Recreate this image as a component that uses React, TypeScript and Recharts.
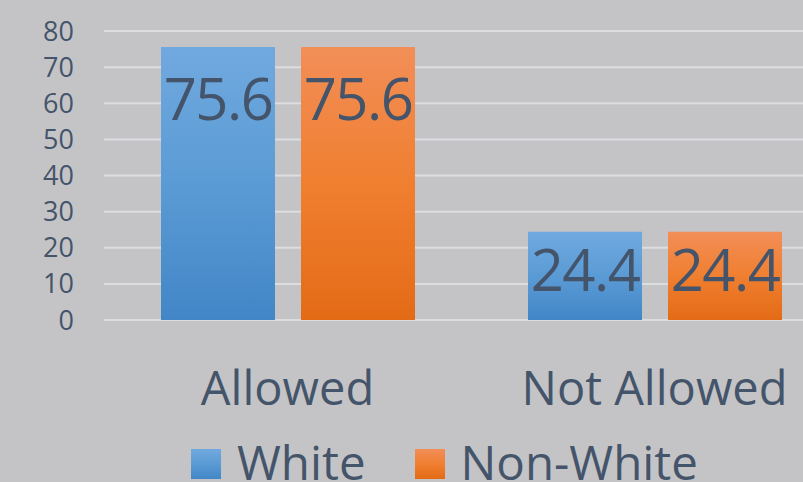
import React from 'react';
import { BarChart, Bar, XAxis, YAxis, CartesianGrid, Legend, LabelList } from 'recharts';

const categories = ['Allowed', 'Not Allowed'];
const whiteValues = [75.6, 24.4];
const nonWhiteValues = [75.6, 24.4];
const yTicks = [0, 10, 20, 30, 40, 50, 60, 70, 80];
const seriesNames = ['White', 'Non-White'];

const data = categories.map((c, i) => ({ category: c, white: whiteValues[i], nonWhite: nonWhiteValues[i] }));

const TEXT = '#44546a';
const FONT = '"Open Sans", sans-serif';
const BG = '#c4c4c6';

const series = [
  { key: 'white', name: seriesNames[0], id: 'gradWhite', top: '#70a9df', mid: '#5b9bd5', bottom: '#4286c7' },
  { key: 'nonWhite', name: seriesNames[1], id: 'gradNonWhite', top: '#f28e58', mid: '#f07f30', bottom: '#e36b16' },
];

const renderValueLabel = (props: any) => {
  const { x, y, width, height, value } = props;
  const cx = Number(x) + Number(width) / 2;
  const cy = Number(y) + Math.min(52.5, Number(height) * 0.443);
  return (
    <text x={cx} y={cy + 20.5} textAnchor="middle" fill={TEXT} fontSize={58} fontFamily={FONT} letterSpacing={-1.5}>
      {value}
    </text>
  );
};

const renderLegend = () => (
  <div style={{ display: 'flex', alignItems: 'center', fontFamily: FONT, fontSize: 47.5, lineHeight: '36px', color: TEXT, whiteSpace: 'nowrap' }}>
    {series.map((s, i) => (
      <div key={s.key} style={{ display: 'flex', alignItems: 'center', marginRight: i === 0 ? 49 : 0 }}>
        <div style={{ width: 30, height: 30, marginRight: 16, marginTop: 4, background: `linear-gradient(${s.top}, ${s.mid}, ${s.bottom})` }} />
        <span>{s.name}</span>
      </div>
    ))}
  </div>
);

export default function App() {
  return (
    <div style={{ position: 'absolute', left: 0, top: 0, width: 803, height: 482, overflow: 'hidden', background: BG }}>
      <BarChart
        width={838}
        height={482}
        data={data}
        margin={{ top: 31, right: 0, bottom: 62, left: 0 }}
        barCategoryGap="15.4%"
        barGap={26}
      >
        <defs>
          {series.map((s) => (
            <linearGradient key={s.id} id={s.id} x1="0" y1="0" x2="0" y2="1">
              <stop offset="0%" stopColor={s.top} />
              <stop offset="50%" stopColor={s.mid} />
              <stop offset="100%" stopColor={s.bottom} />
            </linearGradient>
          ))}
        </defs>
        <CartesianGrid vertical={false} stroke="#dcdde1" strokeWidth={2} />
        <XAxis
          dataKey="category"
          axisLine={false}
          tickLine={false}
          tickSize={0}
          tickMargin={52}
          height={100}
          interval={0}
          tick={{ fill: TEXT, fontSize: 47, fontFamily: FONT }}
        />
        <YAxis
          domain={[0, 80]}
          ticks={yTicks}
          interval={0}
          width={104}
          axisLine={false}
          tickLine={false}
          tickSize={0}
          tickMargin={30}
          tick={{ fill: TEXT, fontSize: 27, fontFamily: FONT }}
        />
        <Legend
          content={renderLegend}
          layout="horizontal"
          align="center"
          verticalAlign="middle"
          wrapperStyle={{ left: 191, top: 444, width: 'auto', height: 36 }}
        />
        {series.map((s) => (
          <Bar key={s.key} dataKey={s.key} name={s.name} fill={`url(#${s.id})`} barSize={114} isAnimationActive={false}>
            <LabelList dataKey={s.key} content={renderValueLabel} />
          </Bar>
        ))}
      </BarChart>
    </div>
  );
}
